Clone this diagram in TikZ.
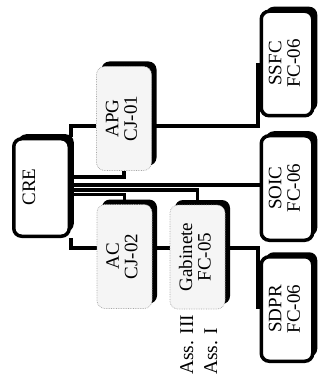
\documentclass[tikz,border=0pt]{standalone}
\usepackage{fontspec}
\setmainfont{Liberation Serif}
\usepackage{graphicx}
\usetikzlibrary{shadows,backgrounds}
\newcommand{\twolines}[2]{\rotatebox{90}{\begin{tabular}{@{}c@{}}#1\\#2\end{tabular}}}
\tikzset{
	unit/.style={draw=black,line width=3.5pt,fill=white,rounded corners=8pt,inner sep=0pt,minimum width=51.5pt,minimum height=104.5pt,drop shadow={shadow xshift=4.5pt,shadow yshift=4.5pt,fill=black,opacity=1},font=\fontsize{19}{18.5}\selectfont},
	grayunit/.style={draw=gray!70,densely dotted,line width=0.7pt,fill=gray!8,rounded corners=8pt,inner sep=0pt,minimum width=55pt,minimum height=104pt,drop shadow={shadow xshift=5pt,shadow yshift=5pt,fill=black,opacity=1},font=\fontsize{19}{18.5}\selectfont},
	asslabel/.style={rotate=90,anchor=base west,inner sep=0pt,font=\fontsize{19.5}{20}\selectfont},
	link/.style={line width=3.2pt}
}
\begin{document}
\begin{tikzpicture}[x=1pt,y=-1pt]
	\useasboundingbox (0,0) rectangle (320,379);

	\node [unit,minimum width=55.5pt,minimum height=97.5pt] (cre) at (41.5,187.5) {};
	\node [font=\fontsize{19}{18.5}\selectfont,inner sep=0pt] (cretext) at (29,187) {\rotatebox{90}{CRE}};
	\node [grayunit] (apg) at (124,118.5) {\twolines{APG}{CJ-01}};
	\node [grayunit] (ac) at (124.5,256.5) {\twolines{AC}{CJ-02}};
	\node [grayunit] (gab) at (197.5,257) {\twolines{Gabinete}{FC-05}};
	\node [unit] (ssfc) at (287,63.5) {\twolines{SSFC}{FC-06}};
	\node [unit] (soic) at (287,188) {\twolines{SOIC}{FC-06}};
	\node [unit] (sdpr) at (287,309) {\twolines{SDPR}{FC-06}};
	\node [asslabel] (ass3) at (193,375) {Ass. III};
	\node [asslabel] (ass1) at (217,375) {Ass. I};

	\begin{scope}[on background layer]
		\draw [link] (cre.north east) |- (apg.west |- 0,126);
		\draw [link] (cre.east |- 0,177) -| (apg.south);
		\draw [link] (cre.east |- 0,185) -- (soic.west |- 0,185);
		\draw [link] (cre.east |- 0,190) -| (gab.north);
		\draw [link] (cre.east |- 0,194.5) -| (ac.north);
		\draw [link] (cre.south east) |- (ac.west |- 0,248);
		\draw [link] (ac.east |- 0,248) -- (gab.west |- 0,248);
		\draw [link] (apg.east |- 0,126) -| ([xshift=-1.5pt]ssfc.west);
		\draw [link] (gab.east |- 0,248) -| ([xshift=-1.5pt]sdpr.west);
	\end{scope}
\end{tikzpicture}
\end{document}
